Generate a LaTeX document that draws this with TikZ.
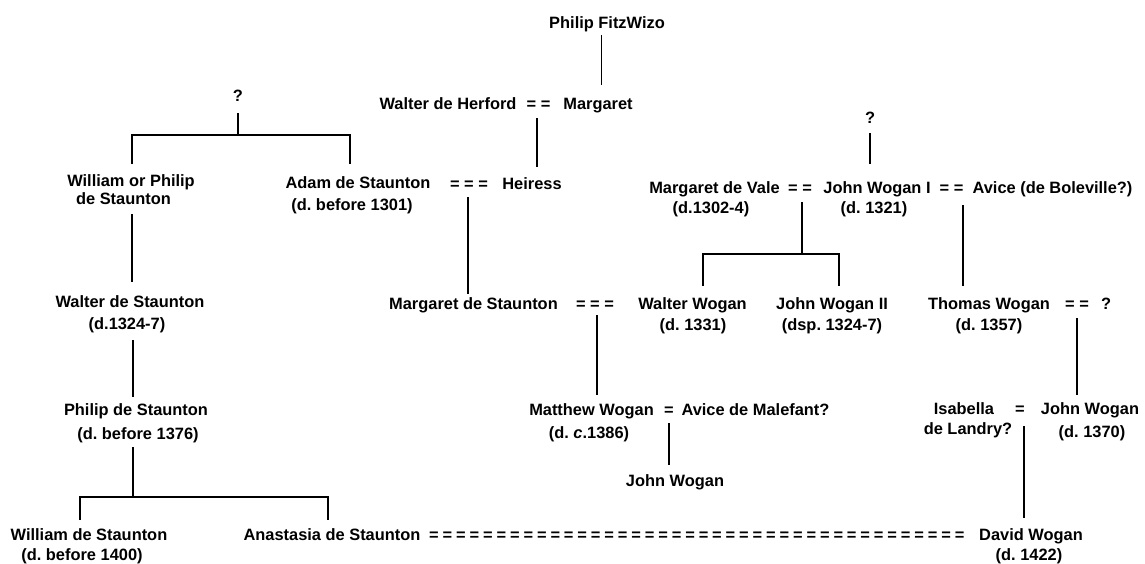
\documentclass[tikz,border=0pt]{standalone}
\usepackage{fontspec}
\setmainfont{Liberation Sans}
\frenchspacing
\begin{document}
\begin{tikzpicture}[x=1pt,y=-1pt,
  txt/.style={font=\fontsize{16.4}{19}\selectfont\bfseries, inner sep=0pt, anchor=base},
  link/.style={draw=black, line width=1.3pt}]
\useasboundingbox[fill=white] (0,0) rectangle (1145,563);

% ---- generation 1 ----
\node[txt] (fitz) at (607,28) {Philip FitzWizo};
\node[txt] (herford) at (448,109) {Walter de Herford};
\node[txt] (mHerford) at (538.5,109) {= =};
\node[txt] (margaret) at (598,109) {Margaret};
\node[txt] (qL) at (238,101) {?};
\node[txt] (qM) at (870,123) {?};

% ---- generation 2 ----
\node[txt] (wps) at (131,186) {William or Philip};
\node[txt] (wpsB) at (123.5,204) {de Staunton};
\node[txt] (adam) at (358,188) {Adam de Staunton};
\node[txt] (adamD) at (352,210) {(d. before 1301)};
\node[txt] (mAdam) at (469,189) {= = =};
\node[txt] (heiress) at (532,189) {Heiress};
\node[txt] (vale) at (714.5,193) {Margaret de Vale};
\node[txt] (valeD) at (711,213) {(d.1302-4)};
\node[txt] (mVale) at (800,193) {= =};
\node[txt] (jwone) at (877,193) {John Wogan I};
\node[txt] (jwoneD) at (874,213) {(d. 1321)};
\node[txt] (mAvice) at (951.5,193) {= =};
\node[txt] (avice) at (1052.5,193) {Avice (de Boleville?)};

% ---- generation 3 ----
\node[txt] (walterS) at (130,307) {Walter de Staunton};
\node[txt] (walterSD) at (127,329) {(d.1324-7)};
\node[txt] (margS) at (473.5,309) {Margaret de Staunton};
\node[txt] (mMargS) at (595,309) {= = =};
\node[txt] (walterW) at (692.5,309) {Walter Wogan};
\node[txt] (walterWD) at (693,330) {(d. 1331)};
\node[txt] (jwtwo) at (832,309) {John Wogan II};
\node[txt] (jwtwoD) at (832,330) {(dsp. 1324-7)};
\node[txt] (thomas) at (989,309) {Thomas Wogan};
\node[txt] (thomasD) at (989,330) {(d. 1357)};
\node[txt] (mThomas) at (1077,309) {= =};
\node[txt] (qR) at (1106,309) {?};

% ---- generation 4 ----
\node[txt] (philip) at (136,415) {Philip de Staunton};
\node[txt] (philipD) at (138,439) {(d. before 1376)};
\node[txt] (matthew) at (591.5,415) {Matthew Wogan};
\node[txt] (matthewD) at (589,438) {(d. \textit{c}.1386)};
\node[txt] (mMatthew) at (669,415) {=};
\node[txt] (aviceM) at (755.5,415) {Avice de Malefant?};
\node[txt] (johnW) at (675,486) {John Wogan};
\node[txt] (isabella) at (964,414) {Isabella};
\node[txt] (isabellaB) at (968,434) {de Landry?};
\node[txt] (mIsabella) at (1020,414) {=};
\node[txt] (jwthree) at (1090,414) {John Wogan};
\node[txt] (jwthreeD) at (1092,437) {(d. 1370)};

% ---- generation 5 ----
\node[txt] (williamS) at (89,540) {William de Staunton};
\node[txt] (williamSD) at (82,560) {(d. before 1400)};
\node[txt] (anastasia) at (332,540) {Anastasia de Staunton};
\node[txt, anchor=base west] (mAnastasia) at (429,540)
  {\spaceskip=3.9pt
   = = = = = = = = = = = = = = = = = = = = = = = = = = = = = = = = = = = = = = = =};
\node[txt] (david) at (1031,540) {David Wogan};
\node[txt] (davidD) at (1029,560) {(d. 1422)};

% ---- line end points ----
\coordinate (fitzDn) at (601.7,35);   \coordinate (margUp) at (601.7,85);
\coordinate (herfDn) at (537,118);    \coordinate (heirUp) at (537,167);
\coordinate (adamDn) at (468,197);    \coordinate (margSUp) at (468,294);
\coordinate (qLDn) at (238,113);      \coordinate (qLBar) at (238,135);
\coordinate (wpsUp) at (132,164);     \coordinate (adamUp) at (350,164);
\coordinate (wpsDn) at (132,214);     \coordinate (walterSUp) at (132,282);
\coordinate (walterSDn) at (133,340); \coordinate (philipUp) at (133,397);
\coordinate (philipDn) at (133,447);  \coordinate (philipBar) at (133,497);
\coordinate (williamSUp) at (80,520); \coordinate (anastasiaUp) at (328,520);
\coordinate (qMDn) at (870,133);      \coordinate (jwoneUp) at (870,164);
\coordinate (valeDn) at (802,202);    \coordinate (valeBar) at (802,254);
\coordinate (walterWUp) at (703,286); \coordinate (jwtwoUp) at (839,286);
\coordinate (aviceDn) at (963,205);   \coordinate (thomasUp) at (963,286);
\coordinate (margSDn) at (597,315);   \coordinate (matthewUp) at (597,395);
\coordinate (thomasDn) at (1077,318); \coordinate (jwthreeUp) at (1077,395);
\coordinate (matthewDn) at (669,423); \coordinate (johnWUp) at (669,465);
\coordinate (isabellaDn) at (1024,426); \coordinate (davidUp) at (1024,518);

% ---- descent lines ----
\draw[link] (fitzDn) -- (margUp);
\draw[link] (herfDn) -- (heirUp);
\draw[link] (adamDn) -- (margSUp);
\draw[link] (qLDn) -- (qLBar);
\draw[link] (wpsUp) |- (qLBar) -| (adamUp);
\draw[link] (wpsDn) -- (walterSUp);
\draw[link] (walterSDn) -- (philipUp);
\draw[link] (philipDn) -- (philipBar);
\draw[link] (williamSUp) |- (philipBar) -| (anastasiaUp);
\draw[link] (qMDn) -- (jwoneUp);
\draw[link] (valeDn) -- (valeBar);
\draw[link] (walterWUp) |- (valeBar) -| (jwtwoUp);
\draw[link] (aviceDn) -- (thomasUp);
\draw[link] (margSDn) -- (matthewUp);
\draw[link] (thomasDn) -- (jwthreeUp);
\draw[link] (matthewDn) -- (johnWUp);
\draw[link] (isabellaDn) -- (davidUp);
\end{tikzpicture}
\end{document}
